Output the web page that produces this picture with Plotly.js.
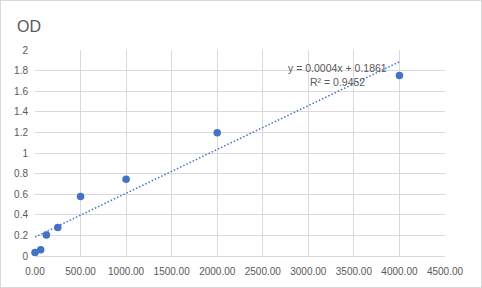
<!DOCTYPE html>
<html>
<head>
<meta charset="utf-8">
<script src="https://cdn.plot.ly/plotly-3.0.1.min.js"></script>
<style>
  html, body { margin: 0; padding: 0; background: #ffffff; }
  #chart { width: 480px; height: 286px; border: 1px solid #d9d9d9; }
</style>
</head>
<body>
<div id="chart"></div>
<script>
// Data
const concentration = [0, 62.5, 125, 250, 500, 1000, 2000, 4000];
const od = [0.035, 0.061, 0.203, 0.277, 0.577, 0.745, 1.197, 1.752];
const chartTitle = "OD";
const equationText = "y = 0.0004x + 0.1861";
const r2Text = "R² = 0.9452";

// Least-squares linear trendline from the data
const n = concentration.length;
const mx = concentration.reduce((a, b) => a + b, 0) / n;
const my = od.reduce((a, b) => a + b, 0) / n;
let sxy = 0, sxx = 0;
for (let i = 0; i < n; i++) {
  sxy += (concentration[i] - mx) * (od[i] - my);
  sxx += (concentration[i] - mx) ** 2;
}
const slope = sxy / sxx;
const intercept = my - slope * mx;
const trendX = [Math.min(...concentration), Math.max(...concentration)];
const trendY = trendX.map(x => intercept + slope * x);

const blue = "#4472C4";
const grid = "#d9d9d9";
const textColor = "#595959";
const font = "Liberation Sans, Arial, sans-serif";

const traces = [
  {
    x: trendX, y: trendY, type: "scatter", mode: "lines",
    line: { color: blue, width: 1.5, dash: "1.5px,2px" },
    hoverinfo: "skip", showlegend: false
  },
  {
    x: concentration, y: od, type: "scatter", mode: "markers",
    marker: { color: blue, size: 7.5 },
    cliponaxis: false,
    showlegend: false
  }
];

const layout = {
  width: 480, height: 286,
  margin: { l: 34, r: 36, t: 49, b: 31, pad: 0 },
  paper_bgcolor: "#ffffff", plot_bgcolor: "#ffffff",
  font: { family: font, size: 10, color: textColor },
  title: {
    text: chartTitle,
    x: 16 / 480, xref: "container", xanchor: "left",
    y: 1 - 25 / 286, yref: "container", yanchor: "middle",
    font: { family: font, size: 16, color: textColor }
  },
  xaxis: {
    range: [0, 4500], dtick: 500, tick0: 0, tickformat: ".2f",
    showgrid: true, gridcolor: grid, gridwidth: 1,
    zeroline: false, showline: true, linecolor: grid, linewidth: 1,
    ticks: "", ticklabelstandoff: 6, mirror: false,
    tickfont: { family: font, size: 10, color: textColor }
  },
  yaxis: {
    range: [0, 2], dtick: 0.2, tick0: 0,
    showgrid: true, gridcolor: grid, gridwidth: 1,
    zeroline: false, showline: false,
    ticks: "", ticklabelstandoff: 6,
    tickfont: { family: font, size: 10, color: textColor }
  },
  annotations: [
    {
      x: 3315, y: 1.825, xref: "x", yref: "y", text: equationText,
      showarrow: false, xanchor: "center", yanchor: "middle",
      font: { family: font, size: 10.5, color: textColor }
    },
    {
      x: 3315, y: 1.69, xref: "x", yref: "y", text: r2Text,
      showarrow: false, xanchor: "center", yanchor: "middle",
      font: { family: font, size: 10.5, color: textColor }
    }
  ]
};

Plotly.newPlot("chart", traces, layout, { displayModeBar: false, staticPlot: true });
</script>
</body>
</html>
